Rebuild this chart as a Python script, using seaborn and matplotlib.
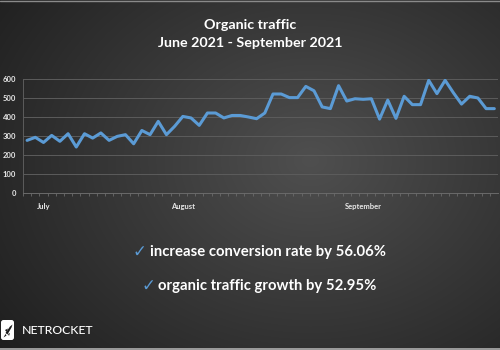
import numpy as np
import pandas as pd
import matplotlib
matplotlib.use("Agg")
import matplotlib.pyplot as plt
import seaborn as sns
from matplotlib.patches import FancyBboxPatch, Polygon, Circle

# ---- data ----
traffic = [277, 293, 266, 303, 272, 312, 242, 312, 289, 316,
           277, 298, 307, 259, 329, 307, 377, 307, 351, 403,
           395, 356, 421, 421, 395, 408, 408, 400, 391, 421,
           521, 521, 502, 502, 561, 538, 453, 444, 565, 484,
           496, 493, 496, 389, 489, 393, 509, 465, 465, 593,
           523, 593, 528, 468, 509, 500, 444, 444]
month_labels = ["July", "August", "September"]
month_index = [2, 19, 41]
y_ticks = [0, 100, 200, 300, 400, 500, 600]
title_lines = ["Organic traffic", "June 2021 - September 2021"]
bullets = ["increase conversion rate by 56.06%", "organic traffic growth by 52.95%"]
brand = "NETROCKET"

df = pd.DataFrame({"idx": np.arange(len(traffic)), "traffic": traffic})

sns.set_theme(style="dark")
plt.rcParams["font.family"] = ["Lato", "DejaVu Sans"]

fig = plt.figure(figsize=(5, 3.5), dpi=100)

# background radial gradient
bg = fig.add_axes([0, 0, 1, 1], zorder=0)
yy, xx = np.mgrid[0:350, 0:500]
r = np.sqrt(((xx - 310) / 330.0) ** 2 + ((yy - 160) / 260.0) ** 2)
val = np.clip(0.31 - 0.16 * r, 0.12, 0.33)
img = np.dstack([val, val, val])
bg.imshow(img, extent=[0, 500, 350, 0], aspect="auto")
bg.set_xlim(0, 500)
bg.set_ylim(350, 0)
bg.axis("off")
bg.axhline(348.5, color="#b0b0b0", lw=1.2)
bg.axhline(0.5, color="#8a8a8a", lw=1.0)

# logo
bg.add_patch(FancyBboxPatch((1, 320), 13, 20, boxstyle="round,pad=0,rounding_size=2.5",
                            fc="white", ec="none"))
bg.add_patch(Polygon([[5.5, 333], [10, 326.5], [12.5, 324.5], [11.5, 327.5], [7.5, 334.5]],
                     closed=True, fc="#1a1a1a", ec="none"))
bg.add_patch(Polygon([[5, 330], [8, 328.5], [6.5, 332]], closed=True, fc="#1a1a1a", ec="none"))
bg.add_patch(Polygon([[9, 336], [10, 333], [8, 334]], closed=True, fc="#1a1a1a", ec="none"))
bg.add_patch(Polygon([[3.5, 337.5], [5.5, 334], [6.5, 335.5]], closed=True, fc="#1a1a1a", ec="none"))

# main chart
ax = fig.add_axes([0.046, 0.4486, 0.95, 0.3257], zorder=1)
ax.set_facecolor("none")
sns.lineplot(data=df, x="idx", y="traffic", ax=ax, color="#5b9bd5", lw=2.2)
ax.set_xlim(-0.45, len(traffic) - 0.55)
ax.set_ylim(0, 600)
ax.set_yticks(y_ticks)
ax.set_yticklabels([str(v) for v in y_ticks], color="#e8e8e8", fontsize=5.5, fontweight="bold")
ax.set_xticks(month_index)
ax.set_xticklabels(month_labels, color="#e8e8e8", fontsize=5.5, fontweight="bold")
ax.set_xticks(np.arange(len(traffic)) - 0.5, minor=True)
ax.tick_params(axis="x", which="major", length=0, pad=7)
ax.tick_params(axis="x", which="minor", length=2.5, color="#6a6a6a", width=0.6, bottom=True)
ax.tick_params(axis="y", length=0, pad=5)
ax.grid(axis="y", color="#5c5c5c", lw=0.7)
ax.grid(axis="x", visible=False)
for s in ["top", "right"]:
    ax.spines[s].set_visible(False)
ax.spines["left"].set_color("#5c5c5c")
ax.spines["left"].set_linewidth(0.7)
ax.spines["bottom"].set_color("#6a6a6a")
ax.spines["bottom"].set_linewidth(0.7)
ax.set_xlabel("")
ax.set_ylabel("")

# titles
fig.text(0.5, 1 - 25 / 350, title_lines[0], ha="center", va="center",
         color="white", fontsize=10.3, fontweight="bold")
fig.text(0.5, 1 - 43 / 350, title_lines[1], ha="center", va="center",
         color="white", fontsize=10.3, fontweight="bold")

# bullets
fig.text(0.265, 1 - 252 / 350, "\u2713", ha="left", va="center",
         color="#5b9bd5", fontsize=12, family=["DejaVu Sans"])
fig.text(0.30, 1 - 252 / 350, bullets[0], ha="left", va="center",
         color="white", fontsize=10.7, fontweight="bold")
fig.text(0.282, 1 - 286 / 350, "\u2713", ha="left", va="center",
         color="#5b9bd5", fontsize=12, family=["DejaVu Sans"])
fig.text(0.316, 1 - 286 / 350, bullets[1], ha="left", va="center",
         color="white", fontsize=10.7, fontweight="bold")

# brand
fig.text(22 / 500, 1 - 330 / 350, brand, ha="left", va="center",
         color="white", fontsize=8.8, fontweight="medium")

fig.savefig("out.png", dpi=100)
